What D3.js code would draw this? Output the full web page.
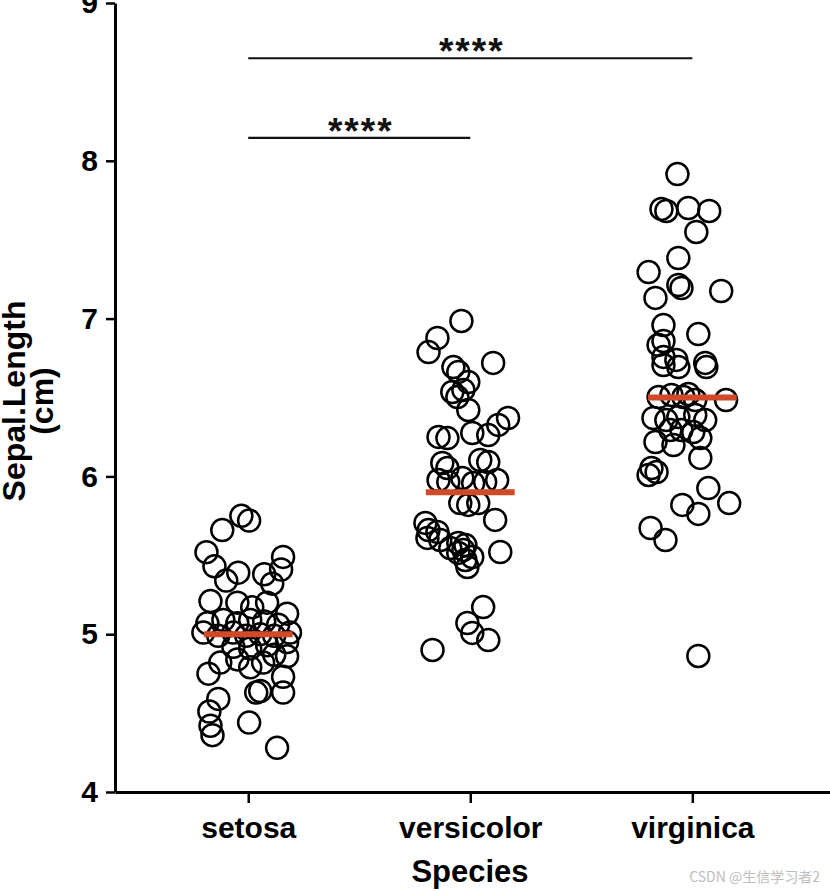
<!DOCTYPE html>
<html><head><meta charset="utf-8">
<script src="https://cdn.jsdelivr.net/npm/d3@7"></script>
<style>body{margin:0;background:#fff}svg{display:block}</style>
</head><body>
<script>
const categories = ["setosa", "versicolor", "virginica"];
const yTicks = [4, 5, 6, 7, 8, 9];
const medians = [5.0, 5.9, 6.5];

const setosaValues = [5.75,5.72,5.66,5.52,5.49,5.43,5.41,5.39,5.38,5.34,5.32,5.21,5.20,5.17,5.20,5.13,5.07,5.09,5.07,5.09,5.08,5.06,5.01,4.99,5.01,4.99,5.00,4.99,5.01,4.92,4.91,4.93,4.95,4.84,4.79,4.82,4.86,4.75,4.73,4.82,4.87,4.63,4.63,4.59,4.51,4.42,4.44,4.36,4.28,4.64];
const setosaJitter = [-0.031,0.004,-0.117,-0.188,0.157,-0.152,0.148,-0.045,0.072,-0.099,0.108,-0.170,-0.049,0.018,0.085,0.175,-0.184,-0.112,-0.049,0.009,0.072,0.135,-0.202,-0.135,-0.067,-0.009,0.054,0.117,0.188,-0.067,0.009,0.085,0.175,-0.049,0.009,0.067,0.175,-0.179,0.157,-0.126,0.117,0.036,0.157,-0.135,-0.175,-0.170,0.004,-0.161,0.130,0.054];

const versicolorValues = [6.985,6.877,6.788,6.719,6.693,6.662,6.598,6.503,6.548,6.421,6.370,6.250,6.243,6.275,6.262,6.085,6.053,6.104,6.091,5.977,5.965,5.965,5.977,5.958,5.831,5.819,5.831,5.724,5.705,5.660,5.648,5.610,5.597,5.578,5.534,5.515,5.489,5.470,5.426,5.521,5.546,5.172,5.071,5.008,4.963,4.900,5.565,6.535,5.990,6.326];
const versicolorJitter = [-0.040,-0.148,-0.188,0.103,-0.076,-0.054,-0.009,-0.058,-0.031,-0.009,0.170,-0.143,-0.103,0.009,0.081,-0.126,-0.103,0.045,0.081,-0.143,-0.099,0.067,0.121,0.013,-0.045,-0.009,0.036,0.112,-0.202,-0.188,-0.148,-0.193,-0.135,-0.054,-0.031,-0.054,0.009,-0.022,-0.013,0.135,-0.090,0.058,-0.013,0.009,0.081,-0.170,-0.022,-0.081,-0.036,0.126];

const virginicaValues = [7.916,7.695,7.682,7.701,7.682,7.549,7.384,7.295,7.213,7.194,7.175,7.131,6.959,6.902,6.833,6.858,6.757,6.738,6.719,6.693,6.706,6.693,6.503,6.516,6.503,6.484,6.484,6.370,6.357,6.376,6.389,6.357,6.294,6.294,6.281,6.218,6.199,6.243,6.117,6.053,6.009,6.028,5.926,5.819,5.762,5.831,5.673,5.597,4.862,6.522];
const virginicaJitter = [-0.067,-0.139,-0.117,-0.018,0.076,0.018,-0.063,-0.197,-0.063,-0.049,0.130,-0.166,-0.130,0.027,-0.152,-0.130,-0.130,-0.072,0.058,0.063,-0.130,-0.063,-0.152,-0.094,-0.040,0.013,0.152,-0.175,-0.117,-0.063,0.013,0.058,-0.099,-0.049,0.004,-0.166,-0.085,0.036,0.036,-0.184,-0.197,-0.161,0.072,-0.045,0.027,0.166,-0.188,-0.121,0.027,-0.018];

const bracketFrom = ["setosa", "setosa"];
const bracketTo = ["virginica", "versicolor"];
const bracketY = [8.65, 8.145];
const bracketLabels = ["****", "****"];

const seriesValues = [setosaValues, versicolorValues, virginicaValues];
const seriesJitter = [setosaJitter, versicolorJitter, virginicaJitter];

const W = 830, H = 892;
const FONT = "'Liberation Sans', Arial, Helvetica, sans-serif";
const svg = d3.select("body").append("svg").attr("width", W).attr("height", H)
  .style("font-family", FONT);

const x = d3.scaleLinear().domain([-0.6, 2.62]).range([115, 830]);
const y = d3.scaleLinear().domain([4, 9]).range([792, 3]);

// points
const pts = [];
seriesValues.forEach((vals, i) => vals.forEach((v, j) => pts.push({c: i, v, j: seriesJitter[i][j]})));
svg.append("g").selectAll("circle").data(pts).join("circle")
  .attr("cx", d => x(d.c + d.j)).attr("cy", d => y(d.v)).attr("r", 11)
  .attr("fill", "none").attr("stroke", "#000").attr("stroke-width", 2.5);

// medians
svg.append("g").selectAll("line").data(medians).join("line")
  .attr("x1", (d, i) => x(i - 0.2)).attr("x2", (d, i) => x(i + 0.2))
  .attr("y1", d => y(d)).attr("y2", d => y(d))
  .attr("stroke", "#d2492a").attr("stroke-width", 6);

// axes
const yAxis = svg.append("g").attr("transform", "translate(115,0)")
  .call(d3.axisLeft(y).tickValues(yTicks).tickFormat(d3.format("d")).tickSize(9).tickSizeOuter(0).tickPadding(8));
const xAxis = svg.append("g").attr("transform", "translate(0,792)")
  .call(d3.axisBottom(x).tickValues([0, 1, 2]).tickFormat(i => categories[i]).tickSize(11).tickSizeOuter(0).tickPadding(14));
[yAxis, xAxis].forEach(g => {
  g.select(".domain").attr("stroke", "#000").attr("stroke-width", 3);
  g.selectAll(".tick line").attr("stroke", "#000").attr("stroke-width", 2.5);
  g.selectAll(".tick text").attr("fill", "#000").style("font-family", FONT)
    .style("font-weight", "bold").style("font-size", "30px");
});

// axis titles
svg.append("text").attr("x", 470).attr("y", 882).attr("text-anchor", "middle")
  .style("font-weight", "bold").style("font-size", "31px").text("Species");
const yt = svg.append("text").attr("transform", "translate(0,401) rotate(-90)")
  .attr("text-anchor", "middle").style("font-weight", "bold").style("font-size", "32px");
yt.append("tspan").attr("x", 0).attr("y", 25).text("Sepal.Length");
yt.append("tspan").attr("x", 0).attr("y", 53).text("(cm)");

// significance brackets
const br = svg.append("g");
bracketY.forEach((v, k) => {
  const a = x(categories.indexOf(bracketFrom[k])), b = x(categories.indexOf(bracketTo[k]));
  br.append("line").attr("x1", a).attr("x2", b).attr("y1", y(v)).attr("y2", y(v))
    .attr("stroke", "#111").attr("stroke-width", 2.2);
  br.append("text").attr("x", (a + b) / 2 + 1.5).attr("y", y(v) + 6).attr("text-anchor", "middle")
    .style("font-size", "37px").style("font-weight", "bold").style("letter-spacing", "2px")
    .attr("fill", "#111").text(bracketLabels[k]);
});

// watermark
svg.append("text").attr("x", 820).attr("y", 882).attr("text-anchor", "end")
  .style("font-family", "'Noto Sans CJK SC', sans-serif").style("font-size", "14px")
  .attr("fill", "#bdbdbd").text("CSDN @生信学习者2");
</script>
</body></html>
